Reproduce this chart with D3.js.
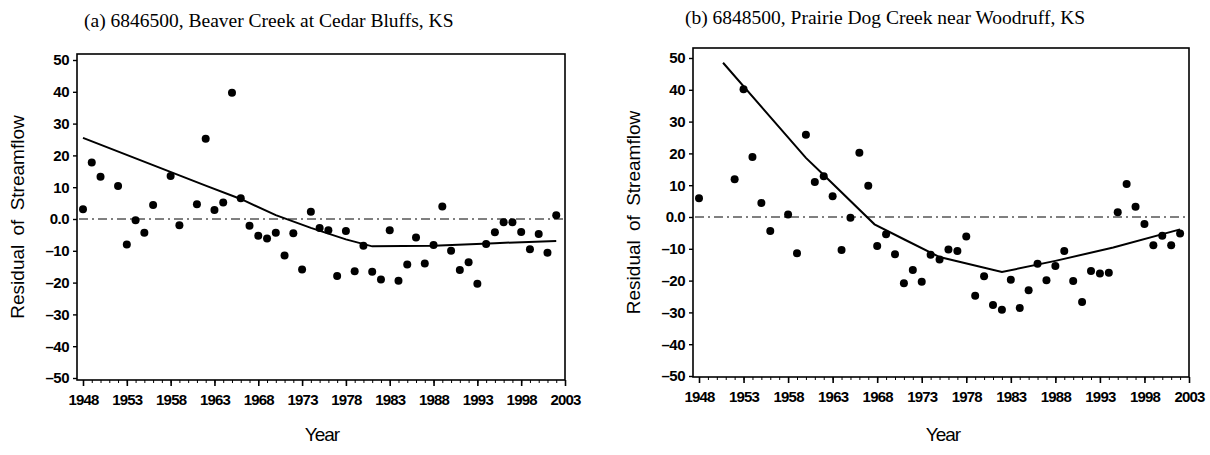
<!DOCTYPE html>
<html>
<head>
<meta charset="utf-8">
<script src="https://cdn.jsdelivr.net/npm/d3@7"></script>
<style>
  body { margin: 0; background: #fff; }
  .tick text { font-family: "Liberation Sans Narrow", "Arial Narrow", sans-serif; font-weight: bold; }
</style>
</head>
<body>
<svg width="1210" height="455"></svg>
<script>
// panel (a) Beaver Creek
const yearsA = [1948, 1949, 1950, 1952, 1953, 1954, 1955, 1956, 1958, 1959, 1961, 1962, 1963, 1964, 1965,
  1966, 1967, 1968, 1969, 1970, 1971, 1972, 1973, 1974, 1975, 1976, 1977, 1978, 1979, 1980,
  1981, 1982, 1983, 1984, 1985, 1986, 1987, 1988, 1989, 1990, 1991, 1992, 1993, 1994, 1995,
  1996, 1997, 1998, 1999, 2000, 2001, 2002];
const residA = [3.1, 17.8, 13.3, 10.4, -8, -0.4, -4.3, 4.4, 13.5, -2, 4.6, 25.2, 2.8, 5.2, 39.7,
  6.5, -2.1, -5.3, -6.1, -4.3, -11.5, -4.5, -15.9, 2.3, -2.8, -3.5, -17.9, -3.8, -16.4, -8.4,
  -16.6, -19, -3.5, -19.4, -14.3, -5.8, -14, -8.2, 3.9, -10, -16, -13.6, -20.4, -7.9, -4.2,
  -1, -1, -4.1, -9.5, -4.7, -10.6, 1.2];
const fitYearsA = [1948, 1962, 1966, 1970, 1974, 1978, 1981, 1988, 1995, 2002];
const fitA = [25.5, 10.5, 6.3, 1.2, -2.8, -6.4, -8.6, -8.4, -7.6, -6.9];

// panel (b) Prairie Dog Creek
const yearsB = [1948, 1952, 1953, 1954, 1955, 1956, 1958, 1959, 1960, 1961, 1962, 1963, 1964, 1965,
  1966, 1967, 1968, 1969, 1970, 1971, 1972, 1973, 1974, 1975, 1976, 1977, 1978, 1979, 1980,
  1981, 1982, 1983, 1984, 1985, 1986, 1987, 1988, 1989, 1990, 1991, 1992, 1993, 1994, 1995,
  1996, 1997, 1998, 1999, 2000, 2001, 2002];
const residB = [5.9, 11.9, 40.2, 18.9, 4.4, -4.4, 0.8, -11.4, 25.9, 11, 12.8, 6.5, -10.4, -0.2,
  20.2, 9.8, -9.1, -5.4, -11.7, -20.8, -16.7, -20.4, -11.9, -13.4, -10.2, -10.7, -6.1, -24.8, -18.6,
  -27.7, -29.2, -19.7, -28.6, -23, -14.7, -19.9, -15.4, -10.7, -20.1, -26.7, -17, -17.8, -17.5, 1.5,
  10.4, 3.2, -2.2, -8.9, -5.9, -8.9, -5.2];
const fitYearsB = [1950.7, 1960, 1962, 1967.7, 1971, 1975, 1982, 1988, 1994.5, 2002];
const fitB = [48.5, 18.6, 13.2, -2.3, -7, -12.6, -17.3, -13.8, -9.6, -3.9];

const xTicks = [1948, 1953, 1958, 1963, 1968, 1973, 1978, 1983, 1988, 1993, 1998, 2003];
const yTicks = [50, 40, 30, 20, 10, 0, -10, -20, -30, -40, -50];
const titles = ['(a) 6846500, Beaver Creek at Cedar Bluffs, KS', '(b) 6848500, Prairie Dog Creek near Woodruff, KS'];

const svg = d3.select('svg');

function drawPanel(p) {
  const x = d3.scaleLinear().domain([1948, 2003]).range([p.x0, p.x1]);
  const y = d3.scaleLinear().domain([-50, 50]).range([p.yb, p.yt]);

  const g = svg.append('g');

  // frame
  g.append('rect')
    .attr('x', p.left)
    .attr('y', p.top)
    .attr('width', p.x1 - p.left)
    .attr('height', p.bottom - p.top)
    .attr('fill', 'none')
    .attr('stroke', '#000')
    .attr('stroke-width', 1.6);

  // x axis: minor each year, major every 5
  g.append('g')
    .attr('transform', `translate(0, ${p.bottom})`)
    .call(d3.axisBottom(x).tickValues(d3.range(1948, 2004)).tickSize(3).tickFormat(''))
    .call(a => a.select('.domain').remove());
  g.append('g')
    .attr('transform', `translate(0, ${p.bottom})`)
    .call(d3.axisBottom(x).tickValues(xTicks).tickSize(6).tickPadding(8).tickFormat(d3.format('d')))
    .call(a => a.select('.domain').remove())
    .call(a => a.selectAll('.tick line').attr('stroke-width', 1.6))
    .call(a => a.selectAll('.tick text').attr('font-size', 15).attr('letter-spacing', -0.8).attr('fill', '#000'));

  // y axis
  g.append('g')
    .attr('transform', `translate(${p.left}, 0)`)
    .call(d3.axisLeft(y).tickValues(yTicks).tickSize(4).tickPadding(4)
      .tickFormat(d => d === 0 ? '0.0' : (d < 0 ? '\u2013' + (-d) : d)))
    .call(a => a.select('.domain').remove())
    .call(a => a.selectAll('.tick line').attr('stroke-width', 1.4))
    .call(a => a.selectAll('.tick text').attr('font-size', 15).attr('letter-spacing', -0.5).attr('fill', '#000'));

  // zero reference
  g.append('line')
    .attr('x1', p.left + 2)
    .attr('x2', p.x1 - 2)
    .attr('y1', y(0))
    .attr('y2', y(0))
    .attr('stroke', '#000')
    .attr('stroke-width', 1)
    .attr('stroke-dasharray', '9,4,2,4');

  // fitted line
  const fit = p.fitYears.map((yr, i) => [yr, p.fit[i]]);
  g.append('path')
    .attr('d', d3.line().x(d => x(d[0])).y(d => y(d[1]))(fit))
    .attr('fill', 'none')
    .attr('stroke', '#000')
    .attr('stroke-width', 2);

  // residual points
  g.selectAll('circle.pt')
    .data(p.years.map((yr, i) => [yr, p.resid[i]]))
    .enter().append('circle')
    .attr('class', 'pt')
    .attr('cx', d => x(d[0]))
    .attr('cy', d => y(d[1]))
    .attr('r', 4)
    .attr('fill', '#000');

  // titles
  svg.append('text')
    .attr('x', p.titleX)
    .attr('y', p.titleY)
    .attr('font-family', '"Liberation Serif", "Times New Roman", serif')
    .attr('font-size', 19.5)
    .text(p.title);

  svg.append('text')
    .attr('transform', `translate(${p.left - 53}, ${(p.top + p.bottom) / 2}) rotate(-90)`)
    .attr('text-anchor', 'middle')
    .attr('font-family', '"Liberation Sans", Arial, sans-serif')
    .attr('font-size', 19)
    .attr('word-spacing', 4)
    .text('Residual of Streamflow');

  svg.append('text')
    .attr('x', p.yearX)
    .attr('y', 441)
    .attr('text-anchor', 'middle')
    .attr('font-family', '"Liberation Sans", Arial, sans-serif')
    .attr('font-size', 19)
    .attr('letter-spacing', -1)
    .text('Year');
}

drawPanel({
  x0: 83, x1: 565, left: 77, top: 54, bottom: 380, yt: 60, yb: 378,
  years: yearsA, resid: residA, fitYears: fitYearsA, fit: fitA,
  title: titles[0], titleX: 84, titleY: 27, yearX: 322
});

drawPanel({
  x0: 699, x1: 1189, left: 693, top: 48, bottom: 377, yt: 58, yb: 376,
  years: yearsB, resid: residB, fitYears: fitYearsB, fit: fitB,
  title: titles[1], titleX: 685, titleY: 24, yearX: 943
});
</script>
</body>
</html>
